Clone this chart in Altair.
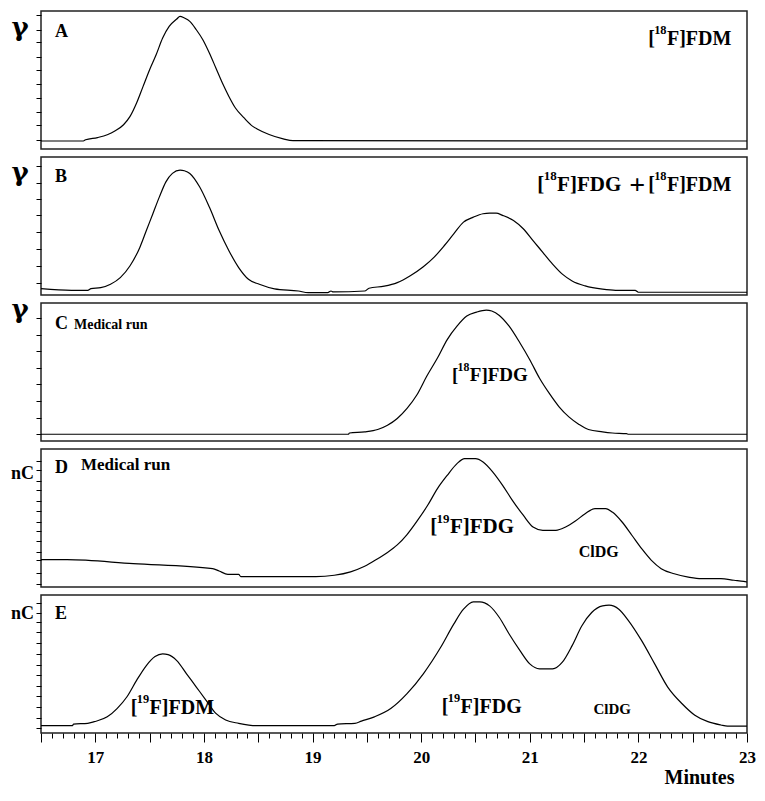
import altair as alt
import pandas as pd

X_DOMAIN = [16.5, 23.0]

# ---- chromatogram traces (minutes, relative signal 0-100) ----
a_t = [16.50, 16.89, 16.91, 17.02, 17.11, 17.18, 17.26, 17.32, 17.38, 17.44, 17.50, 17.56, 17.62, 17.68, 17.75, 17.78,
       17.82, 17.87, 17.93, 17.99, 18.05, 18.11, 18.17, 18.23, 18.29, 18.37, 18.45, 18.49, 18.60, 18.73, 18.82, 23.00]
a_v = [5.8, 5.8, 6.7, 8.3, 10.3, 13.0, 17.6, 23.6, 33.3, 45.4, 57.5, 68.3, 80.4, 88.8, 94.2, 96.1,
       94.9, 92.5, 86.4, 79.2, 69.6, 58.7, 47.8, 38.1, 29.7, 22.5, 16.4, 14.5, 10.5, 7.3, 6.0, 5.8]

b_t = [16.50, 16.78, 16.93, 16.96, 17.05, 17.14, 17.23, 17.32, 17.41, 17.47, 17.53, 17.59, 17.65, 17.71, 17.78,
       17.82, 17.87, 17.96, 18.05, 18.14, 18.23, 18.32, 18.41, 18.51, 18.65, 18.87, 18.96, 19.14, 19.17, 19.19,
       19.48, 19.52, 19.66, 19.78, 19.90, 20.02, 20.12, 20.21, 20.30, 20.39, 20.48, 20.57, 20.63, 20.69, 20.75,
       20.85, 20.94, 21.03, 21.12, 21.21, 21.30, 21.39, 21.51, 21.67, 21.79, 21.97, 22.00, 23.00]
b_v = [4.6, 3.4, 3.4, 4.6, 5.3, 7.8, 12.6, 21.2, 34.5, 46.7, 58.9, 71.1, 82.0, 88.1, 90.5,
       90.0, 88.1, 78.4, 63.7, 46.7, 32.1, 19.9, 11.4, 7.8, 4.5, 2.9, 1.7, 1.7, 2.9, 2.2,
       2.9, 4.9, 6.4, 9.0, 14.0, 20.5, 27.5, 35.5, 44.3, 52.8, 56.4, 58.9, 59.3, 59.3, 57.7,
       54.0, 48.0, 39.4, 30.9, 22.4, 15.1, 10.2, 6.6, 4.2, 3.4, 3.4, 2.0, 2.0]

c_t = [16.50, 19.33, 19.34, 19.48, 19.60, 19.69, 19.78, 19.87, 19.96, 20.05, 20.15, 20.24, 20.33, 20.42, 20.51,
       20.60, 20.65, 20.72, 20.81, 20.91, 21.00, 21.09, 21.18, 21.27, 21.36, 21.45, 21.54, 21.67, 21.76, 21.89,
       21.91, 23.00]
c_v = [4.9, 4.9, 5.8, 6.6, 8.3, 11.4, 16.3, 23.6, 33.3, 46.7, 60.1, 73.5, 83.2, 90.5, 93.4,
       94.9, 94.2, 91.0, 83.2, 71.0, 58.9, 45.5, 34.5, 24.8, 17.5, 12.2, 8.3, 6.6, 5.8, 5.3,
       4.9, 4.9]

d_t = [16.50, 16.74, 17.35, 18.08, 18.14, 18.22, 18.32, 18.34, 19.03, 19.20, 19.35, 19.48, 19.60, 19.69, 19.78,
       19.87, 19.96, 20.06, 20.15, 20.24, 20.33, 20.40, 20.50, 20.57, 20.66, 20.75, 20.84, 20.94, 21.03, 21.12,
       21.24, 21.33, 21.42, 21.51, 21.60, 21.70, 21.76, 21.85, 21.94, 22.03, 22.12, 22.21, 22.33, 22.46, 22.58,
       22.76, 22.88, 22.97, 23.00]
d_v = [19.8, 19.8, 16.9, 13.3, 11.6, 9.2, 9.2, 7.5, 7.5, 8.5, 11.0, 15.0, 20.5, 25.0, 30.5,
       38.0, 47.5, 59.2, 71.3, 80.9, 89.4, 93.0, 93.0, 90.6, 83.3, 73.7, 62.8, 52.0, 43.5, 41.1,
       41.1, 43.5, 47.8, 53.1, 56.8, 56.8, 54.3, 47.1, 37.5, 27.8, 19.3, 13.3, 9.6, 7.2, 6.0,
       6.0, 4.9, 4.1, 3.6]

e_t = [16.50, 16.79, 16.80, 16.93, 16.99, 17.11, 17.20, 17.29, 17.38, 17.47, 17.55, 17.62, 17.67, 17.75, 17.84,
       17.93, 18.02, 18.11, 18.20, 18.32, 18.48, 19.20, 19.23, 19.39, 19.45, 19.57, 19.72, 19.87, 20.02, 20.18,
       20.30, 20.39, 20.48, 20.54, 20.63, 20.72, 20.81, 20.91, 21.00, 21.09, 21.21, 21.30, 21.39, 21.48, 21.57,
       21.67, 21.73, 21.82, 21.91, 22.03, 22.15, 22.27, 22.40, 22.52, 22.64, 22.76, 22.82, 23.00]
e_v = [5.3, 5.3, 6.5, 7.0, 8.2, 11.7, 17.7, 26.1, 38.1, 48.9, 55.4, 57.3, 56.8, 52.5, 42.9,
       33.3, 23.7, 14.2, 9.4, 7.0, 5.3, 5.3, 6.5, 7.0, 8.6, 11.7, 17.7, 28.5, 42.9, 62.1,
       78.9, 89.7, 95.0, 95.0, 92.1, 83.7, 71.7, 59.7, 50.1, 46.5, 46.5, 51.3, 63.3, 77.7, 87.3,
       92.1, 92.6, 89.7, 81.3, 66.9, 50.1, 33.3, 21.4, 12.9, 8.2, 5.8, 5.0, 5.0]

# ---- y tick positions per panel ----
a_ticks = [6.7, 17.1, 26.8, 37.0, 47.1, 57.2, 66.7, 77.2, 86.5, 96.8]
b_ticks = [9.0, 21.2, 33.4, 45.5, 57.7, 69.3, 81.5, 93.6]
c_ticks = [5.0, 17.0, 29.0, 41.0, 53.0, 65.0, 77.0, 89.0]
d_ticks = [2.0, 10.1, 19.3, 25.4, 33.1, 40.4, 47.1, 54.9, 62.1, 70.1, 76.6, 84.6, 91.1]
e_ticks = [3.6, 10.8, 18.9, 26.6, 34.0, 41.7, 49.6, 57.3, 65.2, 72.9, 80.1, 87.3, 94.5]

# ---- x axis ticks ----
x_ticks = [round(16.5 + 0.1 * i, 1) for i in range(66)]

# ---- texts ----
panel_letters = ["A", "B", "C", "D", "E"]
unit_labels = ["γ", "γ", "γ", "nC", "nC"]
subtitles = ["", "", "Medical run", "Medical run", ""]

# (minutes, signal, prefix, superscript, rest, font size)
sup_labels = {
    "A": [(22.09, 75.6, "[", "18", "F]FDM", 20)],
    "B": [(21.07, 75.6, "[", "18", "F]FDG", 21), (22.09, 75.6, "[", "18", "F]FDM", 20)],
    "C": [(20.283, 43.7, "[", "18", "F]FDG", 19)],
    "D": [(20.083, 38.8, "[", "19", "F]FDG", 21)],
    "E": [(17.327, 14.0, "[", "19", "F]FDM", 20), (20.19, 14.7, "[", "19", "F]FDG", 20)],
}
# (minutes, signal, text, size, align, baseline)
plain_labels = {
    "B": [(21.99, 78.8, "+", 28, "center", "middle")],
    "D": [(21.45, 22.0, "ClDG", 16, "left", "alphabetic")],
    "E": [(21.587, 14.0, "ClDG", 15, "left", "alphabetic")],
}

SERIF = "Liberation Serif, Times New Roman, Times, DejaVu Serif, serif"
W, H = 706, 138

letter_y = [26, 25, 26, 24, 24]
unit_y = [25, 24, 15, 30, 24]
sub_pos = [None, None, (33, 26, 14), (40, 21, 17), None]


def make_panel(i, t, v, yt):
    name = panel_letters[i]
    yaxis = alt.Axis(values=yt, labels=False, domain=False, grid=False, ticks=True,
                     tickSize=5, tickColor="black", tickWidth=1, title=None)
    if i == 4:
        xaxis = alt.Axis(
            values=x_ticks, domain=False, grid=False,
            tickColor="black", tickWidth=1,
            tickSize={"condition": {"test": "abs(datum.value*2 - round(datum.value*2)) < 0.01", "value": 9},
                      "value": 5},
            labelExpr="abs(datum.value - round(datum.value)) < 0.01 ? '' + round(datum.value) : ''",
            labelFont=SERIF, labelFontWeight="bold", labelFontSize=17, labelColor="black",
            labelPadding=7, labelFlush=False, labelOverlap=False,
            title="Minutes", titleFont=SERIF, titleFontWeight="bold", titleFontSize=20,
            titleColor="black", titleAlign="right", titleBaseline="alphabetic",
            titleX=693, titleY=50, titleAnchor="end")
    else:
        xaxis = alt.Axis(labels=False, ticks=False, domain=False, grid=False, title=None)
    xs = alt.Scale(domain=X_DOMAIN, nice=False, zero=False)
    ys = alt.Scale(domain=[0, 100], nice=False, zero=False)
    X = lambda: alt.X("t:Q", scale=xs, axis=xaxis)
    Y = lambda: alt.Y("v:Q", scale=ys, axis=yaxis)

    df = pd.DataFrame({"t": t, "v": v})
    layers = [alt.Chart(df).mark_line(color="black", strokeWidth=1.2, interpolate="monotone").encode(x=X(), y=Y())]

    # superscripted labels
    for (lt, lv, pre, sup, post, size) in sup_labels.get(name, []):
        base = alt.Chart(pd.DataFrame({"t": [lt], "v": [lv]})).encode(x=X(), y=Y())
        common = dict(align="left", baseline="alphabetic", font=SERIF, fontWeight="bold", color="black")
        ssize = round(0.62 * size, 1)
        layers.append(base.mark_text(text=pre, fontSize=size, **common))
        layers.append(base.mark_text(text=sup, fontSize=ssize, dx=0.30 * size, dy=-0.52 * size, **common))
        layers.append(base.mark_text(text=post, fontSize=size, dx=0.32 * size + 0.5 * ssize * len(sup), **common))
    for (lt, lv, txt, size, align, baseline) in plain_labels.get(name, []):
        layers.append(alt.Chart(pd.DataFrame({"t": [lt], "v": [lv]})).mark_text(
            text=txt, fontSize=size, align=align, baseline=baseline, font=SERIF,
            fontWeight="bold", color="black").encode(x=X(), y=Y()))

    # panel letter / unit / subtitle placed relative to the panel's top-left corner
    pos = pd.DataFrame({"t": [X_DOMAIN[0]], "v": [100.0]})
    layers.append(alt.Chart(pos).mark_text(
        text=name, align="left", baseline="alphabetic", font=SERIF, fontWeight="bold",
        fontSize=18, color="black", dx=14, dy=letter_y[i]).encode(x=X(), y=Y()))
    unit = unit_labels[i]
    if unit == "γ":
        layers.append(alt.Chart(pos).mark_text(
            text=unit, align="center", baseline="alphabetic", font="DejaVu Serif", fontWeight="bold",
            fontSize=26, color="black", dx=-21, dy=unit_y[i]).encode(x=X(), y=Y()))
    else:
        layers.append(alt.Chart(pos).mark_text(
            text=unit, align="right", baseline="alphabetic", font=SERIF, fontWeight="bold",
            fontSize=18, color="black", dx=-7, dy=unit_y[i]).encode(x=X(), y=Y()))
    if subtitles[i]:
        sx, sy, ss = sub_pos[i]
        layers.append(alt.Chart(pos).mark_text(
            text=subtitles[i], align="left", baseline="alphabetic", font=SERIF, fontWeight="bold",
            fontSize=ss, color="black", dx=sx, dy=sy).encode(x=X(), y=Y()))
    return alt.layer(*layers).properties(width=W, height=H)


traces = [(a_t, a_v, a_ticks), (b_t, b_v, b_ticks), (c_t, c_v, c_ticks), (d_t, d_v, d_ticks), (e_t, e_v, e_ticks)]
panels = [make_panel(i, *tr) for i, tr in enumerate(traces)]

chart = alt.vconcat(*panels, spacing=8, bounds="flush").properties(
    padding={"left": 2, "top": 2, "right": 0, "bottom": 0}, background="white"
).configure_view(stroke="#222222", strokeWidth=1.5)

chart.save("out.html", embed_options={"renderer": "svg", "actions": False})
